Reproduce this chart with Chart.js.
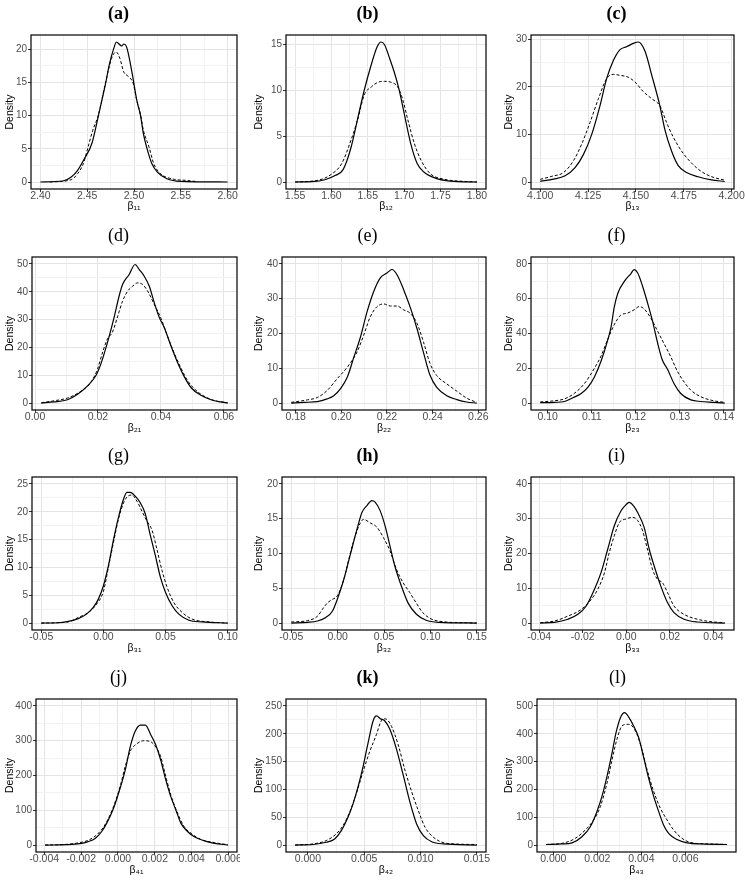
<!DOCTYPE html>
<html lang="en">
<head>
  <meta charset="UTF-8">
  <title>Posterior densities</title>
  <script src="https://cdnjs.cloudflare.com/ajax/libs/Chart.js/4.4.1/chart.umd.min.js"></script>
  <style>
    body { margin: 0; background: #fff; width: 745px; height: 884px; position: relative; overflow: hidden; }
    canvas { position: absolute; }
  </style>
</head>
<body>
<script>
  // ---- data: [x, density] pairs ----
  const solidA = [[2.400,0],[2.424,0.15],[2.433,0.75],[2.440,1.8],[2.447,3.5],[2.455,5.8],[2.462,10.0],[2.469,14.4],[2.474,17.9],[2.479,20.4],[2.481,21.1],[2.487,20.5],[2.489,20.8],[2.492,20.4],[2.498,16.4],[2.503,12.3],[2.507,10.0],[2.510,7.3],[2.514,5.0],[2.519,2.8],[2.525,1.5],[2.535,0.5],[2.550,0.1],[2.600,0]];
  const dashedA = [[2.410,0],[2.433,0.35],[2.440,1.3],[2.446,2.8],[2.451,5.3],[2.456,7.8],[2.462,10.1],[2.469,14.6],[2.476,18.6],[2.481,19.6],[2.485,18.6],[2.489,16.6],[2.494,15.9],[2.499,14.9],[2.503,12.3],[2.507,10.1],[2.510,7.8],[2.516,5.3],[2.521,2.8],[2.528,1.3],[2.543,0.4],[2.555,0.25],[2.568,0.05]];

  const solidB = [[1.550,0],[1.573,0.04],[1.591,0.25],[1.605,0.7],[1.616,1.35],[1.627,3.8],[1.636,6.9],[1.645,10.0],[1.655,12.9],[1.663,14.8],[1.668,15.3],[1.673,15.0],[1.680,13.5],[1.686,12.1],[1.693,10.1],[1.700,7.5],[1.709,4.2],[1.718,2.0],[1.727,1.1],[1.745,0.37],[1.764,0.1],[1.800,0]];
  const dashedB = [[1.550,0],[1.582,0.2],[1.600,0.85],[1.614,2.0],[1.627,4.6],[1.636,6.8],[1.645,9.5],[1.655,10.4],[1.664,10.9],[1.673,11.0],[1.682,10.9],[1.691,10.4],[1.698,9.0],[1.705,6.8],[1.714,4.2],[1.723,2.4],[1.736,0.9],[1.755,0.3],[1.782,0.07],[1.800,0]];

  const solidC = [[4.1000,0.15],[4.1069,0.6],[4.1130,1.3],[4.1182,3.0],[4.1226,5.8],[4.1269,10.0],[4.1312,16.0],[4.1347,21.7],[4.1382,25.5],[4.1417,27.8],[4.1451,28.4],[4.1486,29.1],[4.1512,29.4],[4.1547,27.5],[4.1582,22.5],[4.1625,16.0],[4.1651,11.0],[4.1686,6.5],[4.1720,3.5],[4.1764,2.0],[4.1825,1.1],[4.1894,0.45],[4.1964,0.1]];
  const dashedC = [[4.1000,0.55],[4.1061,1.2],[4.1122,2.0],[4.1174,4.5],[4.1217,8.0],[4.1260,12.5],[4.1304,17.5],[4.1347,21.7],[4.1382,22.6],[4.1417,22.4],[4.1460,22.0],[4.1495,21.0],[4.1538,19.0],[4.1582,17.5],[4.1625,16.0],[4.1660,12.5],[4.1694,9.5],[4.1738,6.5],[4.1790,4.0],[4.1842,2.2],[4.1903,1.0],[4.1964,0.4]];

  const solidD = [[0.0020,0],[0.0060,0.4],[0.0103,1.2],[0.0135,3.2],[0.0167,6.2],[0.0193,9.8],[0.0209,14.0],[0.0230,21.7],[0.0251,30.7],[0.0267,38.4],[0.0278,42.6],[0.0299,46.2],[0.0318,49.8],[0.0331,48.0],[0.0347,45.6],[0.0363,42.0],[0.0379,36.0],[0.0395,30.7],[0.0411,27.0],[0.0432,20.5],[0.0453,14.5],[0.0474,9.5],[0.0496,5.5],[0.0527,2.8],[0.0559,1.2],[0.0590,0.4],[0.0612,0]];
  const dashedD = [[0.0020,0.1],[0.0060,0.8],[0.0103,1.8],[0.0145,4.2],[0.0177,7.4],[0.0198,12.0],[0.0214,18.0],[0.0230,23.0],[0.0246,25.5],[0.0262,31.0],[0.0278,36.6],[0.0294,40.2],[0.0310,42.0],[0.0326,43.2],[0.0342,42.6],[0.0358,40.2],[0.0379,35.4],[0.0400,30.5],[0.0421,24.0],[0.0442,18.0],[0.0464,12.5],[0.0485,8.0],[0.0517,4.0],[0.0549,1.8],[0.0580,0.6],[0.0612,0.1]];

  const solidE = [[0.1781,0],[0.1836,0.2],[0.1895,0.4],[0.1938,1.2],[0.1967,2.1],[0.1996,4.1],[0.2026,7.4],[0.2055,13.2],[0.2084,19.0],[0.2113,26.3],[0.2142,32.1],[0.2171,36.0],[0.2200,37.4],[0.2222,38.4],[0.2244,36.9],[0.2273,32.6],[0.2302,27.5],[0.2331,21.5],[0.2360,14.5],[0.2389,7.9],[0.2418,4.5],[0.2462,2.1],[0.2506,1.0],[0.2549,0.3],[0.2593,0]];
  const dashedE = [[0.1781,0.2],[0.1851,0.9],[0.1895,1.6],[0.1938,3.6],[0.1982,7.0],[0.2026,10.3],[0.2069,14.7],[0.2098,19.5],[0.2127,24.8],[0.2156,27.7],[0.2186,28.5],[0.2215,27.9],[0.2244,27.9],[0.2273,26.8],[0.2302,25.8],[0.2331,23.0],[0.2360,17.5],[0.2389,11.3],[0.2418,7.9],[0.2462,5.5],[0.2506,3.4],[0.2549,1.4],[0.2593,0.2]];

  const solidF = [[0.0983,0.2],[0.1015,0.4],[0.1038,0.9],[0.1057,3.0],[0.1076,5.5],[0.1091,9.0],[0.1106,15.0],[0.1121,24.0],[0.1136,36.0],[0.1144,44.0],[0.1151,55.0],[0.1159,63.0],[0.1174,70.0],[0.1189,74.5],[0.1196,76.7],[0.1204,74.9],[0.1215,67.5],[0.1226,58.2],[0.1238,47.1],[0.1249,35.1],[0.1260,24.9],[0.1272,19.4],[0.1287,11.1],[0.1302,5.5],[0.1325,1.8],[0.1347,0.9],[0.1377,0.4],[0.1402,0]];
  const dashedF = [[0.0983,0.6],[0.1015,1.3],[0.1038,2.4],[0.1060,5.5],[0.1083,11.1],[0.1106,20.0],[0.1121,27.0],[0.1136,36.5],[0.1151,45.0],[0.1166,50.6],[0.1181,51.7],[0.1196,53.6],[0.1208,55.5],[0.1219,54.1],[0.1234,48.9],[0.1249,41.6],[0.1264,34.2],[0.1279,26.8],[0.1294,18.5],[0.1310,12.0],[0.1325,7.4],[0.1347,3.7],[0.1377,1.3],[0.1402,0.4]];

  const solidG = [[-0.0500,0],[-0.0365,0.05],[-0.0284,0.3],[-0.0203,0.8],[-0.0136,1.6],[-0.0082,2.8],[-0.0041,4.3],[0.0000,6.7],[0.0040,10.3],[0.0081,15.0],[0.0121,19.0],[0.0162,22.3],[0.0189,23.5],[0.0216,23.5],[0.0256,22.8],[0.0297,21.6],[0.0337,19.6],[0.0378,15.7],[0.0418,12.1],[0.0459,8.2],[0.0500,5.5],[0.0553,3.1],[0.0607,1.6],[0.0688,0.5],[0.0796,0.2],[0.1000,0]];
  const dashedG = [[-0.0500,0],[-0.0284,0.2],[-0.0203,1.0],[-0.0122,1.9],[-0.0055,3.4],[0.0000,5.7],[0.0040,10.0],[0.0081,14.5],[0.0121,18.7],[0.0162,21.6],[0.0197,22.8],[0.0229,23.0],[0.0270,21.9],[0.0310,20.1],[0.0351,18.3],[0.0391,16.7],[0.0432,13.1],[0.0472,9.4],[0.0513,6.4],[0.0566,3.7],[0.0634,1.9],[0.0715,0.7],[0.0850,0.2],[0.1000,0]];

  const solidH = [[-0.0500,0],[-0.0323,0.1],[-0.0216,0.3],[-0.0128,0.8],[-0.0057,1.7],[-0.0004,3.4],[0.0067,6.3],[0.0138,9.9],[0.0209,13.5],[0.0262,15.9],[0.0316,16.9],[0.0369,17.6],[0.0404,17.4],[0.0457,16.2],[0.0511,14.0],[0.0564,11.1],[0.0617,8.2],[0.0688,5.3],[0.0759,2.9],[0.0847,1.3],[0.0954,0.4],[0.1096,0.1],[0.1500,0]];
  const dashedH = [[-0.0500,0.15],[-0.0323,0.35],[-0.0216,1.0],[-0.0163,2.0],[-0.0110,2.9],[-0.0057,3.4],[-0.0004,3.9],[0.0067,6.3],[0.0138,10.1],[0.0209,13.3],[0.0280,14.9],[0.0351,14.4],[0.0422,13.8],[0.0493,12.3],[0.0564,10.4],[0.0635,7.7],[0.0706,5.8],[0.0777,4.4],[0.0847,2.9],[0.0918,1.5],[0.1007,0.6],[0.1131,0.2],[0.1500,0]];

  const solidI = [[-0.0395,0],[-0.0329,0.2],[-0.0268,1.1],[-0.0222,2.5],[-0.0184,4.9],[-0.0146,9.7],[-0.0116,14.5],[-0.0085,21.3],[-0.0055,28.0],[-0.0024,32.3],[-0.0002,34.0],[0.0013,34.7],[0.0036,33.5],[0.0052,31.8],[0.0082,27.5],[0.0105,21.3],[0.0128,16.4],[0.0158,10.7],[0.0189,5.9],[0.0219,3.0],[0.0265,1.1],[0.0326,0.3],[0.0452,0]];
  const dashedI = [[-0.0395,0.1],[-0.0329,0.6],[-0.0268,2.0],[-0.0207,3.9],[-0.0161,6.8],[-0.0131,9.7],[-0.0100,14.5],[-0.0078,20.3],[-0.0055,25.1],[-0.0032,28.9],[-0.0002,29.9],[0.0029,30.4],[0.0052,29.5],[0.0075,26.5],[0.0098,21.0],[0.0120,15.5],[0.0143,12.6],[0.0166,11.6],[0.0189,8.8],[0.0219,4.9],[0.0265,2.5],[0.0326,1.1],[0.0402,0.3],[0.0452,0.1]];

  const solidJ = [[-0.00395,0],[-0.00280,1],[-0.00207,4],[-0.00161,10],[-0.00124,19],[-0.00088,39],[-0.00061,63],[-0.00024,106],[0.00012,164],[0.00040,217],[0.00067,284],[0.00094,328],[0.00122,345],[0.00149,345],[0.00177,318],[0.00204,289],[0.00231,246],[0.00259,188],[0.00286,140],[0.00314,101],[0.00341,63],[0.00377,39],[0.00414,24],[0.00469,12],[0.00523,5],[0.00596,0]];
  const dashedJ = [[-0.00395,0],[-0.00280,2],[-0.00207,7],[-0.00152,16],[-0.00097,39],[-0.00061,67],[-0.00024,111],[0.00012,169],[0.00040,227],[0.00067,270],[0.00104,292],[0.00140,300],[0.00168,299],[0.00195,289],[0.00231,255],[0.00259,198],[0.00286,145],[0.00323,92],[0.00359,53],[0.00396,34],[0.00450,16],[0.00523,7],[0.00596,1]];

  const solidK = [[-0.00113,0],[0.00045,1],[0.00163,5],[0.00238,11],[0.00297,26],[0.00356,50],[0.00401,74],[0.00446,105],[0.00490,141],[0.00535,184],[0.00579,223],[0.00609,232],[0.00644,227],[0.00683,223],[0.00728,208],[0.00787,172],[0.00846,126],[0.00906,77],[0.00965,38],[0.01025,17],[0.01099,6],[0.01203,2],[0.01500,0]];
  const dashedK = [[-0.00113,0],[0.00045,2],[0.00163,8],[0.00252,20],[0.00312,35],[0.00371,59],[0.00431,93],[0.00490,132],[0.00549,168],[0.00609,199],[0.00644,220],[0.00668,227],[0.00698,226],[0.00743,213],[0.00802,180],[0.00861,135],[0.00921,96],[0.00980,62],[0.01040,32],[0.01114,14],[0.01233,3],[0.01500,1]];

  const solidL = [[-0.00033,2],[0.00039,4],[0.00085,8],[0.00130,30],[0.00168,66],[0.00198,120],[0.00221,175],[0.00244,247],[0.00267,331],[0.00285,404],[0.00305,458],[0.00324,476],[0.00342,461],[0.00365,428],[0.00388,386],[0.00411,313],[0.00433,241],[0.00456,175],[0.00479,120],[0.00501,72],[0.00524,42],[0.00562,20],[0.00608,8],[0.00676,4],[0.00789,2]];
  const dashedL = [[-0.00033,2],[0.00039,6],[0.00100,24],[0.00145,54],[0.00183,90],[0.00214,139],[0.00244,223],[0.00267,307],[0.00289,380],[0.00312,428],[0.00335,434],[0.00358,428],[0.00380,398],[0.00403,343],[0.00426,271],[0.00456,193],[0.00486,133],[0.00517,90],[0.00547,54],[0.00585,24],[0.00630,8],[0.00706,4],[0.00789,2]];

  // tick labels (x) and y tick values, plus the top of each y range
  const xTicksA = ['2.40','2.45','2.50','2.55','2.60'];
  const xTicksB = ['1.55','1.60','1.65','1.70','1.75','1.80'];
  const xTicksC = ['4.100','4.125','4.150','4.175','4.200'];
  const xTicksD = ['0.00','0.02','0.04','0.06'];
  const xTicksE = ['0.18','0.20','0.22','0.24','0.26'];
  const xTicksF = ['0.10','0.11','0.12','0.13','0.14'];
  const xTicksG = ['-0.05','0.00','0.05','0.10'];
  const xTicksH = ['-0.05','0.00','0.05','0.10','0.15'];
  const xTicksI = ['-0.04','-0.02','0.00','0.02','0.04'];
  const xTicksJ = ['-0.004','-0.002','0.000','0.002','0.004','0.006'];
  const xTicksK = ['0.000','0.005','0.010','0.015'];
  const xTicksL = ['0.000','0.002','0.004','0.006'];

  const yTicksA = [0, 5, 10, 15, 20];
  const yTicksB = [0, 5, 10, 15];
  const yTicksC = [0, 10, 20, 30];
  const yTicksD = [0, 10, 20, 30, 40, 50];
  const yTicksE = [0, 10, 20, 30, 40];
  const yTicksF = [0, 20, 40, 60, 80];
  const yTicksG = [0, 5, 10, 15, 20, 25];
  const yTicksH = [0, 5, 10, 15, 20];
  const yTicksI = [0, 10, 20, 30, 40];
  const yTicksJ = [0, 100, 200, 300, 400];
  const yTicksK = [0, 50, 100, 150, 200, 250];
  const yTicksL = [0, 100, 200, 300, 400, 500];

  const yTop = [21.1, 15.3, 29.4, 50, 40, 80, 25, 20, 40, 400, 250, 500];

  const panelTitles = ['(a)','(b)','(c)','(d)','(e)','(f)','(g)','(h)','(i)','(j)','(k)','(l)'];
  const boldTitle = [true, true, true, false, false, false, false, true, false, false, true, false];
  const xTitles = ['β₁₁','β₁₂','β₁₃','β₂₁','β₂₂','β₂₃','β₃₁','β₃₂','β₃₃','β₄₁','β₄₂','β₄₃'];

  const solids = [solidA, solidB, solidC, solidD, solidE, solidF, solidG, solidH, solidI, solidJ, solidK, solidL];
  const dasheds = [dashedA, dashedB, dashedC, dashedD, dashedE, dashedF, dashedG, dashedH, dashedI, dashedJ, dashedK, dashedL];
  const xTickSets = [xTicksA, xTicksB, xTicksC, xTicksD, xTicksE, xTicksF, xTicksG, xTicksH, xTicksI, xTicksJ, xTicksK, xTicksL];
  const yTickSets = [yTicksA, yTicksB, yTicksC, yTicksD, yTicksE, yTicksF, yTicksG, yTicksH, yTicksI, yTicksJ, yTicksK, yTicksL];

  // ---- layout of the grid (pixels) ----
  const colLeft = [0, 249, 499];
  const colWidth = [240, 246, 246];
  const rowTop = [0, 222, 442, 664];
  const PANEL_H = 220;
  const boxBottom = [189, 188, 188, 188];   // plot box bottom inside a panel
  const yAxisWidth = [31, 37, 32, 32, 33, 32, 32, 33, 32, 36, 37, 38];
  const boxRight = [237, 237, 235, 237, 237, 235, 237, 237, 235, 237, 237, 237];

  Chart.defaults.font.family = "'Liberation Sans', Arial, sans-serif";
  Chart.defaults.font.size = 10;

  // major ticks from the label list, minor ticks half way between (ggplot style)
  function buildTicks(values, min, max) {
    const out = values.map(v => ({ value: v, isMajor: true }));
    const half = (values[1] - values[0]) / 2;
    for (let i = 0; i < values.length - 1; i++) out.push({ value: values[i] + half });
    out.push({ value: values[0] - half });
    out.push({ value: values[values.length - 1] + half });
    return out.filter(t => t.value >= min - 1e-12 && t.value <= max + 1e-12)
              .sort((p, q) => p.value - q.value);
  }

  const frame = {
    id: 'frame',
    afterDatasetsDraw(chart) {
      const { ctx, chartArea: a } = chart;
      ctx.save();
      ctx.strokeStyle = '#000';
      ctx.lineWidth = 1.2;
      ctx.strokeRect(a.left, a.top, a.right - a.left, a.bottom - a.top);
      ctx.restore();
    }
  };

  const gridColor = c => (c.tick && c.tick.isMajor) ? '#E4E4E4' : '#F2F2F2';
  const tickColor = c => (c.tick && c.tick.isMajor) ? '#333333' : 'rgba(0,0,0,0)';

  for (let p = 0; p < 12; p++) {
    const row = Math.floor(p / 3), col = p % 3;
    const canvas = document.createElement('canvas');
    canvas.width = colWidth[col];
    canvas.height = PANEL_H;
    canvas.style.left = colLeft[col] + 'px';
    canvas.style.top = rowTop[row] + 'px';
    document.body.appendChild(canvas);

    const all = solids[p].concat(dasheds[p]);
    const xs = all.map(d => d[0]);
    const xMin = Math.min(...xs), xMax = Math.max(...xs);
    const xr = xMax - xMin;
    const xLo = xMin - 0.05 * xr, xHi = xMax + 0.05 * xr;
    const yLo = -0.05 * yTop[p], yHi = 1.05 * yTop[p];
    const xLabels = xTickSets[p];
    const xVals = xLabels.map(Number);
    const yVals = yTickSets[p];
    const xH = PANEL_H - boxBottom[row];

    new Chart(canvas, {
      type: 'line',
      data: {
        datasets: [
          {
            data: solids[p].map(d => ({ x: d[0], y: d[1] })),
            borderColor: '#000', borderWidth: 1.2, pointRadius: 0,
            cubicInterpolationMode: 'monotone', fill: false
          },
          {
            data: dasheds[p].map(d => ({ x: d[0], y: d[1] })),
            borderColor: '#000', borderWidth: 1, borderDash: [3, 2], pointRadius: 0,
            cubicInterpolationMode: 'monotone', fill: false
          }
        ]
      },
      options: {
        responsive: false,
        animation: false,
        events: [],
        layout: { padding: { left: 0, top: 0, bottom: 0, right: colWidth[col] - boxRight[p] } },
        plugins: {
          legend: { display: false },
          tooltip: { enabled: false },
          title: {
            display: true,
            text: panelTitles[p],
            color: '#000',
            font: { family: "'Liberation Serif', 'DejaVu Serif', serif", size: 18, weight: boldTitle[p] ? 'bold' : 'normal', lineHeight: 1 },
            padding: { top: 5, bottom: 12 }
          }
        },
        scales: {
          x: {
            type: 'linear',
            min: xLo, max: xHi,
            afterBuildTicks: s => { s.ticks = buildTicks(xVals, xLo, xHi); },
            afterFit: s => { s.height = xH; s.paddingLeft = 0; s.paddingRight = 0; },
            ticks: {
              autoSkip: false, maxRotation: 0, minRotation: 0, padding: -2, color: '#4D4D4D',
              font: { size: 10.5 },
              callback: (v, i, t) => t[i].isMajor ? xLabels[xVals.findIndex(u => Math.abs(u - v) < 1e-9)] : ''
            },
            grid: { color: gridColor, tickColor: tickColor, tickLength: 3, lineWidth: 1 },
            border: { display: false },
            title: { display: true, text: xTitles[p], color: '#000', font: { size: 10.5 }, padding: { top: 0, bottom: 8 } }
          },
          y: {
            min: yLo, max: yHi,
            afterBuildTicks: s => { s.ticks = buildTicks(yVals, yLo, yHi); },
            afterFit: s => { s.width = yAxisWidth[p]; s.paddingTop = 0; s.paddingBottom = 0; },
            ticks: {
              autoSkip: false, padding: 1, color: '#4D4D4D',
              callback: (v, i, t) => t[i].isMajor ? String(v) : ''
            },
            grid: { color: gridColor, tickColor: tickColor, tickLength: 3, lineWidth: 1 },
            border: { display: false },
            title: { display: true, text: 'Density', color: '#000', font: { size: 10.5 }, padding: { top: 4, bottom: 0 } }
          }
        }
      },
      plugins: [frame]
    });
  }
</script>
</body>
</html>
